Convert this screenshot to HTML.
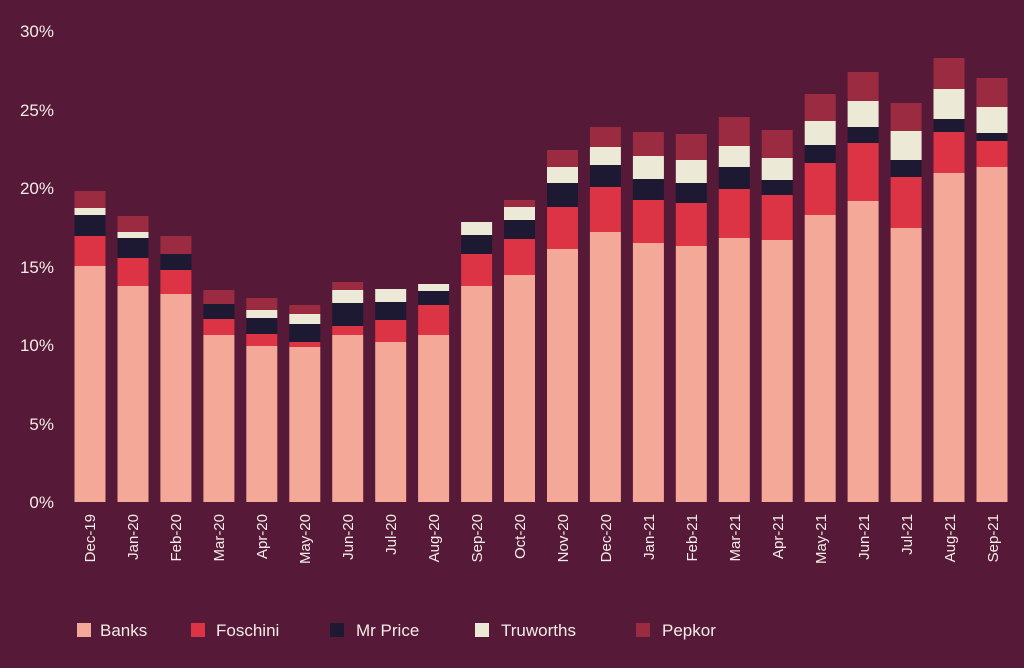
<!DOCTYPE html>
<html><head><style>
body{margin:0;background:#561937;width:1024px;height:663px;overflow:hidden;font-family:"Liberation Sans",sans-serif;}
</style></head><body>
<svg width="1024" height="663" xmlns="http://www.w3.org/2000/svg">
<rect width="1024" height="663" fill="#561937"/>
<g fill="#f3ece8" font-size="17" text-anchor="end">
<text x="54" y="37">30%</text><text x="54" y="116">25%</text><text x="54" y="194">20%</text>
<text x="54" y="273">15%</text><text x="54" y="351">10%</text><text x="54" y="430">5%</text><text x="54" y="508">0%</text>
</g>
<defs><style>.a{fill:#f4a898}.b{fill:#dc3444}.c{fill:#1e1932}.d{fill:#ece9d6}.e{fill:#9b2b41}</style></defs>
<g transform="translate(74.5,0)"><rect class="a" width="31" y="266" height="236"/><rect class="b" width="31" y="236" height="30"/><rect class="c" width="31" y="215" height="21"/><rect class="d" width="31" y="208" height="7"/><rect class="e" width="31" y="191" height="17"/></g>
<g transform="translate(117.5,0)"><rect class="a" width="31" y="286" height="216"/><rect class="b" width="31" y="258" height="28"/><rect class="c" width="31" y="238" height="20"/><rect class="d" width="31" y="232" height="6"/><rect class="e" width="31" y="216" height="16"/></g>
<g transform="translate(160.4,0)"><rect class="a" width="31" y="294" height="208"/><rect class="b" width="31" y="270" height="24"/><rect class="c" width="31" y="254" height="16"/><rect class="e" width="31" y="236" height="18"/></g>
<g transform="translate(203.4,0)"><rect class="a" width="31" y="335" height="167"/><rect class="b" width="31" y="319" height="16"/><rect class="c" width="31" y="304" height="15"/><rect class="e" width="31" y="290" height="14"/></g>
<g transform="translate(246.3,0)"><rect class="a" width="31" y="346" height="156"/><rect class="b" width="31" y="334" height="12"/><rect class="c" width="31" y="318" height="16"/><rect class="d" width="31" y="310" height="8"/><rect class="e" width="31" y="298" height="12"/></g>
<g transform="translate(289.3,0)"><rect class="a" width="31" y="347" height="155"/><rect class="b" width="31" y="342" height="5"/><rect class="c" width="31" y="324" height="18"/><rect class="d" width="31" y="314" height="10"/><rect class="e" width="31" y="305" height="9"/></g>
<g transform="translate(332.2,0)"><rect class="a" width="31" y="335" height="167"/><rect class="b" width="31" y="326" height="9"/><rect class="c" width="31" y="303" height="23"/><rect class="d" width="31" y="290" height="13"/><rect class="e" width="31" y="282" height="8"/></g>
<g transform="translate(375.2,0)"><rect class="a" width="31" y="342" height="160"/><rect class="b" width="31" y="320" height="22"/><rect class="c" width="31" y="302" height="18"/><rect class="d" width="31" y="289" height="13"/></g>
<g transform="translate(418.1,0)"><rect class="a" width="31" y="335" height="167"/><rect class="b" width="31" y="305" height="30"/><rect class="c" width="31" y="291" height="14"/><rect class="d" width="31" y="284" height="7"/></g>
<g transform="translate(461.1,0)"><rect class="a" width="31" y="286" height="216"/><rect class="b" width="31" y="254" height="32"/><rect class="c" width="31" y="235" height="19"/><rect class="d" width="31" y="222" height="13"/></g>
<g transform="translate(504,0)"><rect class="a" width="31" y="275" height="227"/><rect class="b" width="31" y="239" height="36"/><rect class="c" width="31" y="220" height="19"/><rect class="d" width="31" y="207" height="13"/><rect class="e" width="31" y="200" height="7"/></g>
<g transform="translate(547,0)"><rect class="a" width="31" y="249" height="253"/><rect class="b" width="31" y="207" height="42"/><rect class="c" width="31" y="183" height="24"/><rect class="d" width="31" y="167" height="16"/><rect class="e" width="31" y="150" height="17"/></g>
<g transform="translate(589.9,0)"><rect class="a" width="31" y="232" height="270"/><rect class="b" width="31" y="187" height="45"/><rect class="c" width="31" y="165" height="22"/><rect class="d" width="31" y="147" height="18"/><rect class="e" width="31" y="127" height="20"/></g>
<g transform="translate(632.9,0)"><rect class="a" width="31" y="243" height="259"/><rect class="b" width="31" y="200" height="43"/><rect class="c" width="31" y="179" height="21"/><rect class="d" width="31" y="156" height="23"/><rect class="e" width="31" y="132" height="24"/></g>
<g transform="translate(675.8,0)"><rect class="a" width="31" y="246" height="256"/><rect class="b" width="31" y="203" height="43"/><rect class="c" width="31" y="183" height="20"/><rect class="d" width="31" y="160" height="23"/><rect class="e" width="31" y="134" height="26"/></g>
<g transform="translate(718.8,0)"><rect class="a" width="31" y="238" height="264"/><rect class="b" width="31" y="189" height="49"/><rect class="c" width="31" y="167" height="22"/><rect class="d" width="31" y="146" height="21"/><rect class="e" width="31" y="117" height="29"/></g>
<g transform="translate(761.7,0)"><rect class="a" width="31" y="240" height="262"/><rect class="b" width="31" y="195" height="45"/><rect class="c" width="31" y="180" height="15"/><rect class="d" width="31" y="158" height="22"/><rect class="e" width="31" y="130" height="28"/></g>
<g transform="translate(804.7,0)"><rect class="a" width="31" y="215" height="287"/><rect class="b" width="31" y="163" height="52"/><rect class="c" width="31" y="145" height="18"/><rect class="d" width="31" y="121" height="24"/><rect class="e" width="31" y="94" height="27"/></g>
<g transform="translate(847.6,0)"><rect class="a" width="31" y="201" height="301"/><rect class="b" width="31" y="143" height="58"/><rect class="c" width="31" y="127" height="16"/><rect class="d" width="31" y="101" height="26"/><rect class="e" width="31" y="72" height="29"/></g>
<g transform="translate(890.6,0)"><rect class="a" width="31" y="228" height="274"/><rect class="b" width="31" y="177" height="51"/><rect class="c" width="31" y="160" height="17"/><rect class="d" width="31" y="131" height="29"/><rect class="e" width="31" y="103" height="28"/></g>
<g transform="translate(933.5,0)"><rect class="a" width="31" y="173" height="329"/><rect class="b" width="31" y="132" height="41"/><rect class="c" width="31" y="119" height="13"/><rect class="d" width="31" y="89" height="30"/><rect class="e" width="31" y="58" height="31"/></g>
<g transform="translate(976.5,0)"><rect class="a" width="31" y="167" height="335"/><rect class="b" width="31" y="141" height="26"/><rect class="c" width="31" y="133" height="8"/><rect class="d" width="31" y="107" height="26"/><rect class="e" width="31" y="78" height="29"/></g>
<g fill="#f3ece8" font-size="15" text-anchor="end">
<text transform="translate(95,514) rotate(-90)">Dec-19</text>
<text transform="translate(138,514) rotate(-90)">Jan-20</text>
<text transform="translate(181,514) rotate(-90)">Feb-20</text>
<text transform="translate(224,514) rotate(-90)">Mar-20</text>
<text transform="translate(267,514) rotate(-90)">Apr-20</text>
<text transform="translate(310,514) rotate(-90)">May-20</text>
<text transform="translate(353,514) rotate(-90)">Jun-20</text>
<text transform="translate(396,514) rotate(-90)">Jul-20</text>
<text transform="translate(439,514) rotate(-90)">Aug-20</text>
<text transform="translate(482,514) rotate(-90)">Sep-20</text>
<text transform="translate(525,514) rotate(-90)">Oct-20</text>
<text transform="translate(568,514) rotate(-90)">Nov-20</text>
<text transform="translate(611,514) rotate(-90)">Dec-20</text>
<text transform="translate(654,514) rotate(-90)">Jan-21</text>
<text transform="translate(697,514) rotate(-90)">Feb-21</text>
<text transform="translate(740,514) rotate(-90)">Mar-21</text>
<text transform="translate(783,514) rotate(-90)">Apr-21</text>
<text transform="translate(826,514) rotate(-90)">May-21</text>
<text transform="translate(869,514) rotate(-90)">Jun-21</text>
<text transform="translate(912,514) rotate(-90)">Jul-21</text>
<text transform="translate(955,514) rotate(-90)">Aug-21</text>
<text transform="translate(998,514) rotate(-90)">Sep-21</text>
</g>
<g font-size="17" fill="#f3ece8">
<rect x="77" y="623" width="14" height="14" fill="#f4a898"/><text x="100" y="636">Banks</text>
<rect x="191" y="623" width="14" height="14" fill="#dc3444"/><text x="216" y="636">Foschini</text>
<rect x="330" y="623" width="14" height="14" fill="#1e1932"/><text x="356" y="636">Mr Price</text>
<rect x="475" y="623" width="14" height="14" fill="#ece9d6"/><text x="501" y="636">Truworths</text>
<rect x="636" y="623" width="14" height="14" fill="#9b2b41"/><text x="662" y="636">Pepkor</text>
</g>
</svg>
</body></html>
